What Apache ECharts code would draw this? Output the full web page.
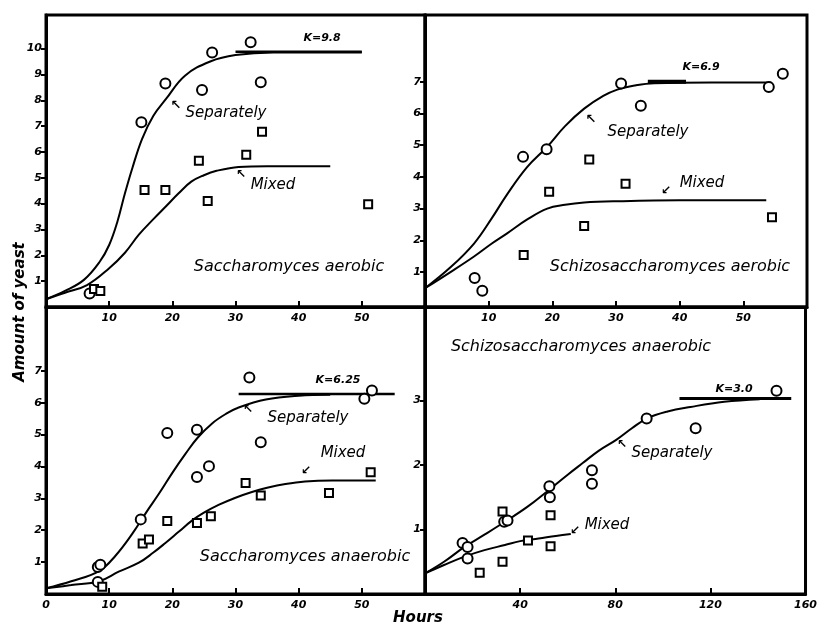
<!DOCTYPE html>
<html><head><meta charset="utf-8">
<script src="https://cdn.jsdelivr.net/npm/echarts@6/dist/echarts.min.js"></script>
<style>html,body{margin:0;padding:0;background:#fff}#c{width:820px;height:625px}</style>
</head><body><div id="c"></div>
<script>
// ---- Data (hours, amount of yeast) ----
// Saccharomyces aerobic
const saccAerSepObs = [[6.9,0.52],[15.1,7.15],[18.9,8.65],[24.7,8.4],[26.3,9.85],[32.4,10.25],[34.0,8.7]];
const saccAerMixObs = [[7.6,0.7],[8.6,0.62],[15.6,4.53],[18.9,4.53],[24.2,5.66],[25.6,4.1],[31.7,5.89],[34.2,6.78],[51.0,3.98]];
const saccAerSepCurve = [[0,0.3],[3,0.62],[6,1.05],[8.5,1.75],[10,2.4],[11.3,3.3],[12.5,4.4],[13.7,5.4],[15.2,6.5],[17,7.4],[19,8.05],[22,8.95],[26,9.5],[30,9.75],[36,9.85],[50,9.85]];
const saccAerMixCurve = [[0,0.3],[3,0.55],[6.5,0.85],[10,1.5],[12.5,2.1],[14.7,2.8],[17,3.4],[19,3.9],[21,4.4],[23,4.85],[25,5.1],[27,5.27],[30.5,5.42],[35,5.45],[45,5.45]];
const saccAerK = [[30,9.88],[50,9.88]];
// Schizosaccharomyces aerobic
const schizAerSepObs = [[7.8,0.81],[9.0,0.41],[15.4,4.63],[19.1,4.87],[30.8,6.94],[33.9,6.24],[54.0,6.83],[56.2,7.25]];
const schizAerMixObs = [[15.5,1.54],[19.5,3.53],[25.0,2.45],[25.8,4.55],[31.5,3.78],[54.5,2.73]];
const schizAerSepCurve = [[0,0.49],[4,1.15],[7.7,1.9],[10.5,2.7],[12.9,3.45],[16,4.3],[19.2,4.95],[22,5.6],[25,6.15],[28,6.55],[30.2,6.75],[33,6.88],[36,6.95],[45,6.97],[54.4,6.97]];
const schizAerMixCurve = [[0,0.49],[4,1.0],[7.7,1.49],[10.5,1.9],[12.9,2.22],[16,2.65],[19.2,3.0],[22,3.12],[25,3.19],[30,3.23],[40,3.26],[53.6,3.26]];
const schizAerK = [[35,7.0],[41,7.0]];
// Saccharomyces anaerobic
const saccAnSepObs = [[8.2,0.85],[8.6,0.92],[8.2,0.38],[15.0,2.34],[19.2,5.05],[23.9,5.15],[23.9,3.67],[25.8,4.01],[32.2,6.79],[34.0,4.76],[50.4,6.12],[51.6,6.38]];
const saccAnMixObs = [[8.9,0.23],[15.3,1.58],[16.3,1.71],[19.2,2.29],[23.9,2.23],[26.1,2.44],[31.6,3.48],[34.0,3.09],[44.8,3.17],[51.4,3.82]];
const saccAnSepCurve = [[0,0.18],[4,0.4],[8.4,0.72],[11,1.2],[13.7,1.9],[16,2.6],[17.9,3.15],[20,3.8],[22.1,4.4],[24,4.9],[26.3,5.35],[28.5,5.65],[30.5,5.85],[34.8,6.1],[40,6.22],[45,6.25]];
const saccAnMixCurve = [[0,0.18],[4,0.28],[8.4,0.4],[11.5,0.7],[14.7,0.98],[17,1.3],[18.9,1.6],[21,1.95],[23.1,2.3],[25,2.55],[27.4,2.8],[30,3.02],[32.6,3.2],[35,3.33],[37.9,3.45],[41,3.53],[45.3,3.56],[52.2,3.56]];
const saccAnK = [[30.5,6.27],[55.2,6.27]];
// Schizosaccharomyces anaerobic
const schizAnSepObs = [[15.8,0.79],[17.9,0.73],[17.9,0.55],[33.3,1.12],[34.7,1.14],[52.3,1.67],[52.5,1.5],[70.2,1.92],[70.2,1.71],[93.2,2.72],[113.8,2.57],[147.8,3.15]];
const schizAnMixObs = [[23.0,0.33],[32.6,0.5],[32.6,1.28],[43.3,0.83],[52.8,1.22],[52.8,0.74]];
const schizAnSepCurve = [[0,0.32],[8,0.5],[16.6,0.73],[25,0.92],[33.6,1.12],[43,1.35],[52,1.61],[60,1.85],[66.3,2.03],[73,2.22],[80.4,2.39],[87,2.57],[93.2,2.72],[102,2.83],[111.6,2.9],[125.8,2.98],[140.7,3.02]];
const schizAnMixCurve = [[0,0.32],[8,0.45],[16.6,0.58],[25,0.68],[33.6,0.76],[40,0.82],[47.8,0.86],[55,0.9],[61.3,0.93]];
const schizAnK = [[107,3.03],[154,3.03]];
// Tick labels
const xTicksTop = [10,20,30,40,50];
const xTicksBL = [0,10,20,30,40,50];
const xTicksBR = [40,80,120,160];
const yTicksTL = [1,2,3,4,5,6,7,8,9,10];
const yTicksTR = [1,2,3,4,5,6,7];
const yTicksBL = [1,2,3,4,5,6,7];
const yTicksBR = [1,2,3];

const FONT = 'DejaVu Sans';
const tickFont = {fontFamily: FONT, fontSize: 11, fontWeight: 'bold', fontStyle: 'italic', color: '#000'};

function xAx(gi, max, ticks) {
  return {type:'value', gridIndex:gi, min:0, max:max,
    axisLine:{show:true, onZero:false, lineStyle:{color:'#000', width:3}},
    axisTick:{show:true, inside:true, length:6, lineStyle:{color:'#000', width:2}, customValues: ticks},
    axisLabel:Object.assign({margin:6, customValues: ticks}, tickFont),
    splitLine:{show:false}};
}
function yAx(gi, min, max, ticks) {
  return {type:'value', gridIndex:gi, min:min, max:max,
    axisLine:{show:true, onZero:false, lineStyle:{color:'#000', width:3}},
    axisTick:{show:true, inside:false, length:5, lineStyle:{color:'#000', width:2}, customValues: ticks},
    axisLabel:Object.assign({margin:4, customValues: ticks}, tickFont),
    splitLine:{show:false}};
}
function curve(i, data, w) {
  return {type:'line', xAxisIndex:i, yAxisIndex:i, data:data, smooth:0.4, showSymbol:false, symbol:'none',
    lineStyle:{color:'#000', width:w||2}, silent:true, z:3};
}
function pts(i, data, sym) {
  return {type:'scatter', xAxisIndex:i, yAxisIndex:i, data:data, symbol:sym, symbolSize: sym==='circle'?10:8,
    itemStyle:{color:'#fff', borderColor:'#000', borderWidth:2, opacity:1}, z:4, silent:true};
}
function txt(x, y, s, size, weight) {
  return {type:'text', x:x, y:y, z:10,
    style:{text:s, x:0, y:0, fill:'#000', font:'italic ' + (weight||'normal') + ' ' + size + 'px "' + FONT + '"', textAlign:'center', textVerticalAlign:'middle'}};
}

const grids = [
  {left:46, top:15, width:379, height:292},
  {left:425, top:15, width:382, height:292},
  {left:46, top:307, width:379, height:287},
  {left:425, top:307, width:382, height:287}
].map(g => Object.assign({show:true, borderColor:'#000', borderWidth:3, backgroundColor:'transparent'}, g));

const option = {
  animation:false,
  backgroundColor:'#fff',
  grid: grids,
  xAxis:[xAx(0,60,xTicksTop), xAx(1,60,xTicksTop), xAx(2,60,xTicksBL), xAx(3,160,xTicksBR)],
  yAxis:[yAx(0,0,11.3,yTicksTL), yAx(1,-0.1,9.1,yTicksTR), yAx(2,0,9.0,yTicksBL), yAx(3,0,4.45,yTicksBR)],
  series:[
    curve(0,saccAerSepCurve), curve(0,saccAerMixCurve), curve(0,saccAerK,2.5),
    pts(0,saccAerSepObs,'circle'), pts(0,saccAerMixObs,'rect'),
    curve(1,schizAerSepCurve), curve(1,schizAerMixCurve), curve(1,schizAerK,4),
    pts(1,schizAerSepObs,'circle'), pts(1,schizAerMixObs,'rect'),
    curve(2,saccAnSepCurve), curve(2,saccAnMixCurve), curve(2,saccAnK,2.5),
    pts(2,saccAnSepObs,'circle'), pts(2,saccAnMixObs,'rect'),
    curve(3,schizAnSepCurve), curve(3,schizAnMixCurve), curve(3,schizAnK,3),
    pts(3,schizAnSepObs,'circle'), pts(3,schizAnMixObs,'rect')
  ],
  graphic:[
    txt(322,38,'K=9.8',11,'bold'),
    txt(226,113,'Separately',15),
    txt(176,106,'\u2196',13,'bold'),
    txt(273,185,'Mixed',15),
    txt(241,175,'\u2196',12,'bold'),
    txt(289,267,'Saccharomyces aerobic',16),
    txt(701,67,'K=6.9',11,'bold'),
    txt(648,132,'Separately',15),
    txt(591,120,'\u2196',13,'bold'),
    txt(702,183,'Mixed',15),
    txt(666,191,'\u2199',12,'bold'),
    txt(670,267,'Schizosaccharomyces aerobic',16),
    txt(338,380,'K=6.25',11,'bold'),
    txt(308,418,'Separately',15),
    txt(248,410,'\u2196',12,'bold'),
    txt(343,453,'Mixed',15),
    txt(306,471,'\u2199',12,'bold'),
    txt(305,557,'Saccharomyces anaerobic',16),
    txt(734,389,'K=3.0',11,'bold'),
    txt(672,453,'Separately',15),
    txt(622,445,'\u2196',12,'bold'),
    txt(607,525,'Mixed',15),
    txt(575,531,'\u2199',12,'bold'),
    txt(581,347,'Schizosaccharomyces anaerobic',16),
    txt(418,618,'Hours',15,'bold'),
    {type:'text', x:20, y:312, rotation:Math.PI/2, z:10,
      style:{text:'Amount of yeast', x:0, y:0, fill:'#000', font:'italic bold 15px "' + FONT + '"', textAlign:'center', textVerticalAlign:'middle'}}
  ]
};
const chart = echarts.init(document.getElementById('c'), null, {renderer:'canvas'});
chart.setOption(option);
</script>
</body></html>
